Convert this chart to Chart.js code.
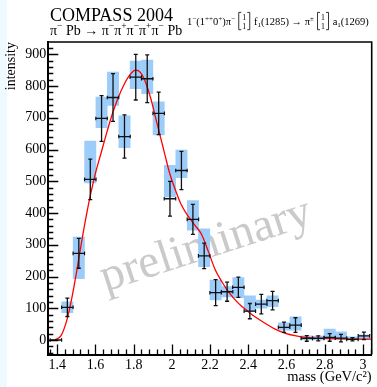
<!DOCTYPE html>
<html><head><meta charset="utf-8">
<script src="https://cdn.jsdelivr.net/npm/chart.js@4/dist/chart.umd.min.js"></script>
<style>html,body{margin:0;padding:0;background:#fff;overflow:hidden}canvas{display:block}</style>
</head><body>
<canvas id="c" width="377" height="387"></canvas>
<script>
// ---- data ----
const massBins   = [1.393,1.453,1.513,1.573,1.632,1.692,1.752,1.811,1.871,1.931,1.990,2.050,2.110,2.169,2.229,2.289,2.348,2.408,2.468,2.527,2.587,2.647,2.706,2.766,2.826,2.885,2.945,3.005];
const intensity  = [0,103,273,506,698,764,641,828,823,714,445,534,380,265,149,152,166,91,113,124,40,47,5,5,8,6,2,13];
const statErr    = [0,29,47,64,72,75,68,72,75,67,55,60,47,40,41,30,32,24,31,29,16,23,9,8,12,12,5,12];
const sysLow     = [null,86,193,495,669,739,606,792,776,646,451,511,346,231,126,136,133,89,100,105,31,31,0,0,2,2,0,2];
const sysHigh    = [null,120,324,627,765,844,706,879,882,750,550,598,439,350,189,168,197,139,126,139,54,73,13,12,34,26,10,16];
const binHalfWidth = 0.03;
const fitMass      = [1.388,1.42,1.45,1.475,1.50,1.525,1.55,1.575,1.60,1.63,1.66,1.69,1.72,1.75,1.78,1.81,1.835,1.86,1.89,1.915,1.94,1.965,1.99,2.02,2.05,2.085,2.12,2.155,2.19,2.225,2.26,2.295,2.33,2.365,2.40,2.435,2.49,2.54,2.59,2.65,2.70,2.80,2.95,3.045];
const fitIntensity = [0,14,62,128,210,300,385,460,525,590,655,715,765,805,835,850,843,815,760,700,640,580,522,470,425,390,362,333,280,224,185,153,127,106,89,73,52,34,22,13,8,5,3,3];
const xTickValues = [1.4,1.6,1.8,2,2.2,2.4,2.6,2.8,3];
const xTickLabels = ['1.4','1.6','1.8','2','2.2','2.4','2.6','2.8','3'];
const yTickValues = [0,100,200,300,400,500,600,700,800,900];
const yTickLabels = ['0','100','200','300','400','500','600','700','800','900'];

const SERIF = '"Liberation Serif", "Times New Roman", serif';

// ---- datasets built from the arrays ----
const boxData = [];
massBins.forEach((m,i)=>{ if (sysLow[i]!==null) boxData.push({x:m, y:[sysLow[i], sysHigh[i]]}); });
const vErr = [];
massBins.forEach((m,i)=>{ if (statErr[i]>0){ vErr.push({x:m,y:intensity[i]-statErr[i]},{x:m,y:intensity[i]+statErr[i]},{x:m,y:null}); }});
const hErr = [];
massBins.forEach((m,i)=>{ hErr.push({x:m-binHalfWidth,y:intensity[i]},{x:m+binHalfWidth,y:intensity[i]},{x:m,y:null}); });
const fitData = fitMass.map((m,i)=>({x:m,y:fitIntensity[i]}));

function rich(ctx, x, y, parts, size){
  for (const p of parts){
    const t = Array.isArray(p) ? p[0] : p;
    const m = Array.isArray(p) ? p[1] : '';
    if (m === '[]'){
      ctx.save();
      ctx.strokeStyle = '#000'; ctx.lineWidth = 0.8;
      const top = y - size*1.2, bot = y + size*0.45;
      ctx.beginPath();
      ctx.moveTo(x+3.5, top); ctx.lineTo(x+1, top); ctx.lineTo(x+1, bot); ctx.lineTo(x+3.5, bot);
      ctx.moveTo(x+9.5, top); ctx.lineTo(x+12, top); ctx.lineTo(x+12, bot); ctx.lineTo(x+9.5, bot);
      ctx.stroke();
      ctx.font = (size*0.75)+'px '+SERIF;
      ctx.textAlign = 'center';
      ctx.fillText('1', x+6.5, y - size*0.5);
      ctx.fillText('1', x+6.5, y + size*0.35);
      ctx.restore();
      x += 13.5;
      continue;
    }
    const s = m ? size*0.68 : size;
    const dy = m === '^' ? -size*0.4 : (m === '_' ? size*0.22 : 0);
    ctx.font = s+'px '+SERIF;
    ctx.fillText(t, x, y+dy);
    x += ctx.measureText(t).width;
  }
  return x;
}

const decor = {
  id:'decor',
  beforeDraw(chart){
    const ctx = chart.ctx;
    ctx.save();
    ctx.fillStyle = '#ffffff'; ctx.fillRect(0,0,chart.width,chart.height);
    ctx.fillStyle = '#eefaff'; ctx.fillRect(0,0,7,chart.height);
    ctx.restore();
  },
  beforeDatasetsDraw(chart){
    const {ctx, chartArea:a} = chart;
    ctx.save();
    ctx.beginPath(); ctx.rect(a.left,a.top,a.right-a.left,a.bottom-a.top); ctx.clip();
    ctx.translate(206, 246);
    ctx.rotate(-18*Math.PI/180);
    ctx.font = '47px '+SERIF;
    ctx.fillStyle = '#cacaca';
    ctx.textAlign = 'center'; ctx.textBaseline = 'middle';
    ctx.fillText('preliminary', 0, 0);
    ctx.restore();
  },
  afterDraw(chart){
    const {ctx, chartArea:a, scales} = chart;
    ctx.save();
    // frame top / right
    ctx.strokeStyle = '#000'; ctx.lineWidth = 1.6;
    ctx.beginPath();
    ctx.moveTo(a.left, a.top); ctx.lineTo(a.right, a.top); ctx.lineTo(a.right, a.bottom);
    ctx.stroke();
    // inward ticks
    ctx.lineWidth = 1.3;
    ctx.beginPath();
    const ys = scales.y, xs = scales.x;
    for (let v=-40; v<=920; v+=20){
      const major = v % 100 === 0;
      const py = Math.round(ys.getPixelForValue(v))+0.5;
      if (py < a.top || py > a.bottom) continue;
      ctx.moveTo(a.left, py); ctx.lineTo(a.left + (major?10:5), py);
    }
    for (let k=0; k<=42; k++){
      const v = 1.36 + 0.04*k;
      const major = (k-1) % 5 === 0;
      const px = Math.round(xs.getPixelForValue(v))+0.5;
      if (px < a.left || px > a.right) continue;
      ctx.moveTo(px, a.bottom); ctx.lineTo(px, a.bottom - (major?10:5));
    }
    ctx.stroke();
    // header texts
    ctx.fillStyle = '#000';
    ctx.textBaseline = 'alphabetic';
    ctx.textAlign = 'left';
    ctx.font = '18px '+SERIF;
    ctx.fillText('COMPASS 2004', 50, 21);
    rich(ctx, 50, 35, ['π',['−','^'],' Pb → π',['−','^'],'π',['+','^'],'π',['−','^'],'π',['+','^'],'π',['−','^'],' Pb'], 14);
    rich(ctx, 187, 25, ['1',['−','^'],'(1',['++','^'],'0',['+','^'],')π',['−','^'],' ',['','[]'],' f',['1','_'],'(1285) → π',['±','^'],' ',['','[]'],' a',['1','_'],'(1269)'], 10.5);
    ctx.restore();
  }
};

new Chart(document.getElementById('c'), {
  type:'bar',
  data:{ datasets:[
    { type:'bar', label:'syst', data: boxData, backgroundColor:'#9ccdfa', borderWidth:0,
      barPercentage:1, categoryPercentage:1, order:4 },
    { type:'line', label:'fit', data: fitData, borderColor:'#ff0000', borderWidth:1.3,
      pointRadius:0, cubicInterpolationMode:'monotone', fill:false, order:3 },
    { type:'line', label:'vErr', data: vErr, borderColor:'#111', borderWidth:1.3, spanGaps:false,
      pointStyle:'line', pointRadius:2, pointBorderWidth:1.3, pointBorderColor:'#111', pointRotation:0, fill:false, order:2 },
    { type:'line', label:'hErr', data: hErr, borderColor:'#111', borderWidth:1.3, spanGaps:false,
      pointStyle:'line', pointRadius:1.8, pointBorderWidth:1.2, pointBorderColor:'#111', pointRotation:90, fill:false, order:1 }
  ]},
  options:{
    responsive:false, animation:false, devicePixelRatio:1,
    layout:{ padding:{ top:42, right:2.5, left:0, bottom:0 } },
    plugins:{ legend:{display:false}, tooltip:{enabled:false} },
    scales:{
      x:{ type:'linear', position:'bottom', min:1.3533, max:3.0457, offset:false,
        grid:{ display:false, drawTicks:false, offset:false },
        border:{ display:true, color:'#000', width:2 },
        afterBuildTicks: s => { s.ticks = xTickValues.map(v=>({value:v})); },
        afterFit: s => { s.height = 32.5; },
        ticks:{ padding:2, color:'#000', font:{family:SERIF, size:14}, maxRotation:0, autoSkip:false,
          callback:(v)=>{ const i = xTickValues.findIndex(t=>Math.abs(t-v)<1e-9); return i>=0 ? xTickLabels[i] : ''; } },
        title:{ display:true, text:'mass (GeV/c²)', align:'end', color:'#000',
          font:{family:SERIF, size:14.5}, padding:{top:0, bottom:1} }
      },
      y:{ type:'linear', position:'left', min:-45.7, max:938.8,
        grid:{ display:false, drawTicks:false },
        border:{ display:true, color:'#000', width:2 },
        afterBuildTicks: s => { s.ticks = yTickValues.map(v=>({value:v})); },
        afterFit: s => { s.width = 48.3; },
        ticks:{ padding:2, color:'#000', font:{family:SERIF, size:14}, autoSkip:false,
          callback:(v)=>{ const i = yTickValues.indexOf(v); return i>=0 ? yTickLabels[i] : ''; } },
        title:{ display:true, text:'intensity', align:'end', color:'#000',
          font:{family:SERIF, size:14}, padding:{top:3, bottom:0} }
      }
    }
  },
  plugins:[decor]
});
</script>
</body></html>
